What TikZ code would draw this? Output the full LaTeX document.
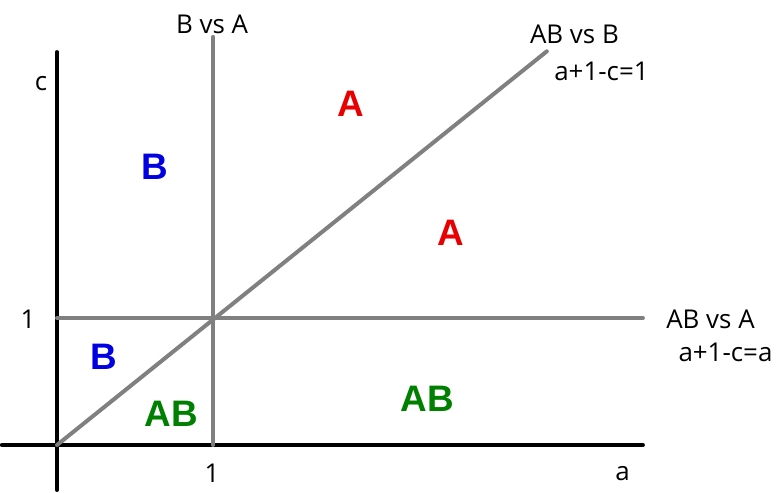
\documentclass[tikz,border=0pt]{standalone}
\usepackage{fontspec}
\setmainfont{Open Sans}
\newfontfamily\regionfont{Liberation Sans}
\definecolor{lineGray}{RGB}{128,128,128}
\definecolor{regionRed}{RGB}{232,0,0}
\definecolor{regionBlue}{RGB}{0,0,225}
\definecolor{regionGreen}{RGB}{0,128,0}
\tikzset{
  axis/.style={line width=2bp, black, line cap=round},
  border/.style={line width=2bp, lineGray, line cap=round},
  txt/.style={anchor=base, inner sep=0pt, font=\fontsize{13}{15}\selectfont},
  region/.style={anchor=base, inner sep=0pt, font=\regionfont\bfseries\fontsize{18.5}{21}\selectfont},
}
\begin{document}
\begin{tikzpicture}[x=2.7517cm, y=2.2402cm]
    \useasboundingbox (-0.3654,-0.3701) rectangle (4.6474,3.5039);
    % Ends of the lines
    \coordinate (o)    at (0,0);
    \coordinate (aL)   at (-0.353,0);
    \coordinate (aR)   at (3.756,0);
    \coordinate (cB)   at (0,-0.354);
    \coordinate (cT)   at (0,3.094);
    \coordinate (vB)   at (1,0);
    \coordinate (vT)   at (1,3.213);
    \coordinate (hL)   at (0,1);
    \coordinate (hR)   at (3.756,1);
    \coordinate (dT)   at (3.14,3.1);
    % Axes
    \draw[axis] (aL) -- (aR);
    \draw[axis] (cB) -- (cT);
    % Borders
    \draw[border] (vB) -- (vT);
    \draw[border] (hL) -- (hR);
    \draw[border] (o) -- (dT);
    % Axis labels
    \node[txt] (cLab)  at (-0.103,2.795) {c};
    \node[txt] (aLab)  at (3.625,-0.276) {a};
    \node[txt] (cOne)  at (-0.186,0.921) {1};
    \node[txt] (aOne)  at (0.994,-0.299) {1};
    % Border labels
    \node[txt] (bvsa)  at (0.994,3.244) {B vs A};
    \node[txt] (abvsb) at (3.317,3.165) {AB vs B};
    \node[txt] (eqB)   at (3.490,2.874) {a+1-c=1};
    \node[txt] (abvsa) at (4.189,0.921) {AB vs A};
    \node[txt] (eqA)   at (4.285,0.661) {a+1-c=a};
    % Regions
    \node[region, regionRed]   (rA1)  at (1.881,2.583) {A};
    \node[region, regionRed]   (rA2)  at (2.526,1.567) {A};
    \node[region, regionBlue]  (rB1)  at (0.628,2.087) {B};
    \node[region, regionBlue]  (rB2)  at (0.298,0.591) {B};
    \node[region, regionGreen] (rAB1) at (0.731,0.142) {AB};
    \node[region, regionGreen] (rAB2) at (2.375,0.260) {AB};
\end{tikzpicture}
\end{document}
